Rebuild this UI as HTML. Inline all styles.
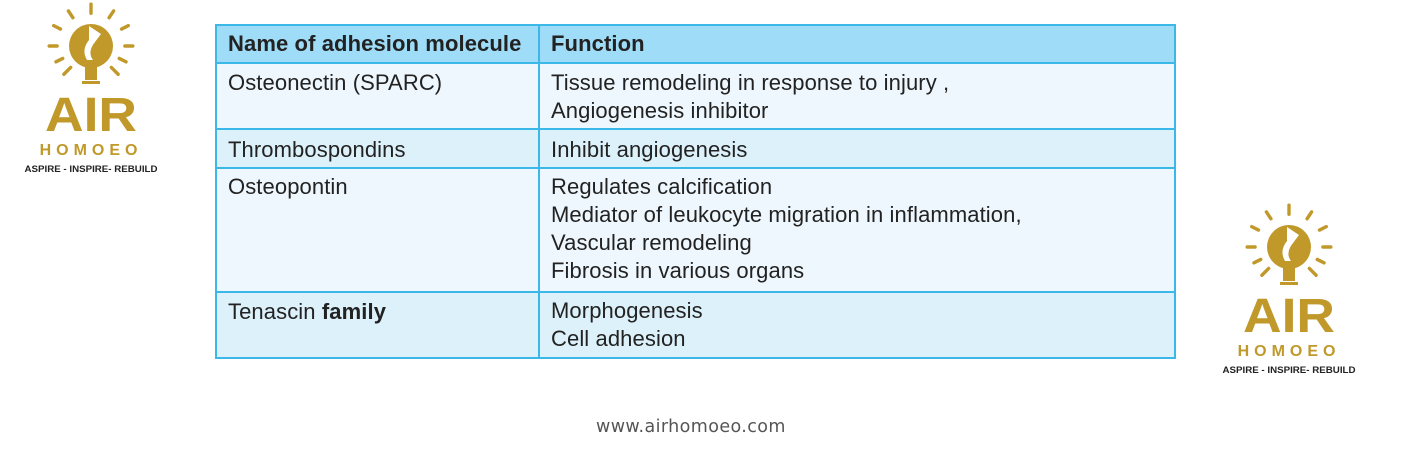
<!DOCTYPE html>
<html><head><meta charset="utf-8"><style>
body{margin:0;width:1402px;height:468px;background:#fff;position:relative;overflow:hidden;font-family:"Liberation Sans",Arial,sans-serif;}
.c{position:absolute;box-sizing:border-box;}
.t{position:absolute;font-size:22px;letter-spacing:0.1px;color:#222;line-height:28px;white-space:nowrap;}
.hl{position:absolute;background:#3bb8e8;}
</style></head><body>
<div class="c" style="left:215px;top:24px;width:961px;height:39px;background:#9fdcf7"></div>
<div class="c" style="left:215px;top:63px;width:961px;height:66px;background:#eef7fd"></div>
<div class="c" style="left:215px;top:129px;width:961px;height:39px;background:#ddf1fb"></div>
<div class="c" style="left:215px;top:168px;width:961px;height:124px;background:#eef7fd"></div>
<div class="c" style="left:215px;top:292px;width:961px;height:66px;background:#ddf1fb"></div>
<div class="c" style="left:215px;top:24px;width:961px;height:335px;border:2px solid #3bb8e8"></div>
<div class="hl" style="left:538px;top:24px;width:2px;height:335px"></div>
<div class="hl" style="left:215px;top:62px;width:961px;height:2px"></div>
<div class="hl" style="left:215px;top:128px;width:961px;height:2px"></div>
<div class="hl" style="left:215px;top:167px;width:961px;height:2px"></div>
<div class="hl" style="left:215px;top:291px;width:961px;height:2px"></div>

<div class="t" style="left:228px;top:30px;font-weight:bold">Name of adhesion molecule</div>
<div class="t" style="left:551px;top:30px;font-weight:bold">Function</div>
<div class="t" style="left:228px;top:69px">Osteonectin (SPARC)</div>
<div class="t" style="left:551px;top:69px">Tissue remodeling in response to injury ,<br>Angiogenesis inhibitor</div>
<div class="t" style="left:228px;top:136px">Thrombospondins</div>
<div class="t" style="left:551px;top:136px">Inhibit angiogenesis</div>
<div class="t" style="left:228px;top:173px">Osteopontin</div>
<div class="t" style="left:551px;top:173px">Regulates calcification<br>Mediator of leukocyte migration in inflammation,<br>Vascular remodeling<br>Fibrosis in various organs</div>
<div class="t" style="left:228px;top:298px">Tenascin <b>family</b></div>
<div class="t" style="left:551px;top:297px">Morphogenesis<br>Cell adhesion</div>

<div class="t" style="left:596px;top:413px;color:#555;letter-spacing:0.4px;font-family:'DejaVu Sans',sans-serif;font-size:17.5px">www.airhomoeo.com</div>

<svg width="1402" height="468" style="position:absolute;left:0;top:0">
<defs>
<g id="logo">
  <g stroke="#c0992a" stroke-width="3" stroke-linecap="round" transform="scale(1.13)">
    <line x1="0" y1="-37" x2="0" y2="-29"/>
    <line x1="-20" y1="-31" x2="-16" y2="-25"/>
    <line x1="20" y1="-31" x2="16" y2="-25"/>
    <line x1="-33" y1="-18" x2="-27" y2="-15"/>
    <line x1="33" y1="-18" x2="27" y2="-15"/>
    <line x1="-37" y1="0" x2="-30" y2="0"/>
    <line x1="37" y1="0" x2="30" y2="0"/>
    <line x1="-31" y1="14" x2="-25" y2="11"/>
    <line x1="31" y1="14" x2="25" y2="11"/>
    <line x1="-24" y1="25" x2="-18" y2="19"/>
    <line x1="24" y1="25" x2="18" y2="19"/>
  </g>
  <circle cx="0" cy="0" r="22" fill="#c0992a"/>
  <rect x="-6" y="18" width="12" height="16" fill="#c0992a"/>
  <rect x="-9" y="35" width="18" height="3" fill="#c0992a"/>
  <path d="M-2,-20 L10,-12 L4,-4 Q-4,6 2,14 L-4,14 Q-10,4 -2,-6 Z" fill="#fff"/>
  <text x="0" y="85" text-anchor="middle" font-family="Liberation Sans" font-weight="bold" font-size="48" fill="#c0992a" textLength="92" lengthAdjust="spacingAndGlyphs">AIR</text>
  <text x="0" y="109" text-anchor="middle" font-family="Liberation Sans" font-weight="bold" font-size="16" fill="#c0992a" letter-spacing="5">HOMOEO</text>
  <text x="0" y="126" text-anchor="middle" font-family="Liberation Sans" font-size="9.5" font-weight="bold" fill="#222" textLength="133" lengthAdjust="spacingAndGlyphs">ASPIRE - INSPIRE- REBUILD</text>
</g>
</defs>
<use href="#logo" x="91" y="46"/>
<use href="#logo" x="1289" y="247"/>
</svg>
</body></html>
